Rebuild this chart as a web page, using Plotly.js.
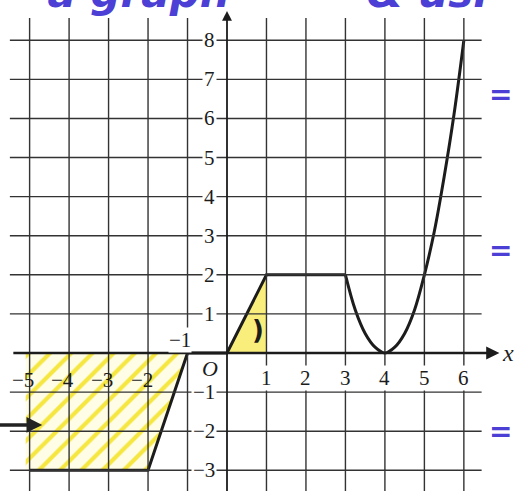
<!DOCTYPE html>
<html>
<head>
<meta charset="utf-8">
<script src="https://cdn.plot.ly/plotly-3.0.1.min.js"></script>
<style>html,body{margin:0;padding:0;background:#fff;}#chart{width:514px;height:491px;}</style>
</head>
<body>
<div id="chart"></div>
<script>
// ---- data ----
const pieceX = [-5, -2, -1, 0, 1, 3];
const pieceY = [-3, -3, 0, 0, 2, 2];
const curveX = [3, 3.25, 3.5, 3.75, 4, 4.25, 4.5, 4.75, 5, 5.25, 5.5, 5.75, 6];
const curveY = [2, 1.1, 0.5, 0.15, 0, 0.15, 0.5, 1.1, 2, 3.1, 4.5, 6.1, 8];
const hatchX = [-5.1, -1, -2, -5.1];
const hatchY = [0, 0, -3, -3];
const triX = [0, 1, 1];
const triY = [0, 2, 0];
const gridX = [-5, -4, -3, -2, -1, 1, 2, 3, 4, 5, 6];
const gridY = [-3, -2, -1, 1, 2, 3, 4, 5, 6, 7, 8];
const xTickNeg = [-5, -4, -3, -2];
const xTickNegText = ['\u22125', '\u22124', '\u22123', '\u22122'];
const xTickPos = [1, 2, 3, 4, 5, 6];
const xTickPosText = ['1', '2', '3', '4', '5', '6'];
const yTick = [8, 7, 6, 5, 4, 3, 2, 1, -1, -2, -3];
const yTickText = ['8', '7', '6', '5', '4', '3', '2', '1', '\u22121', '\u22122', '\u22123'];
const noteEq = [6.6, 2.63, -2.02];

const serif = 'Liberation Serif, DejaVu Serif, serif';
const ink = '#1c1c1c';
const blue = '#4b3fd6';

const traces = [
  {x: hatchX, y: hatchY, type: 'scatter', mode: 'lines', fill: 'toself',
   line: {width: 0, color: 'rgba(0,0,0,0)'},
   fillcolor: 'rgba(255,249,190,0.5)',
   fillpattern: {shape: '/', fgcolor: '#f5e640', bgcolor: 'rgba(255,250,200,0.45)', size: 15, solidity: 0.28},
   hoverinfo: 'skip'},
  {x: triX, y: triY, type: 'scatter', mode: 'lines', fill: 'toself',
   line: {width: 0, color: 'rgba(0,0,0,0)'}, fillcolor: 'rgba(248,234,90,0.8)', hoverinfo: 'skip'},
  {x: pieceX, y: pieceY, type: 'scatter', mode: 'lines', line: {color: ink, width: 3}},
  {x: curveX, y: curveY, type: 'scatter', mode: 'lines', line: {color: ink, width: 3, shape: 'spline'}}
];

const shapes = [];
gridX.forEach(v => shapes.push({type: 'line', xref: 'x', yref: 'y', x0: v, x1: v, y0: -3.7, y1: 8.57,
  line: {color: '#333333', width: 1.4}, layer: 'above'}));
gridY.forEach(v => shapes.push({type: 'line', xref: 'x', yref: 'y', x0: -5.5, x1: 6.45, y0: v, y1: v,
  line: {color: '#333333', width: 1.4}, layer: 'above'}));

const ann = [];
// axes with arrows
ann.push({x: 6.9, y: 0, ax: -5.45, ay: 0, axref: 'x', ayref: 'y', xref: 'x', yref: 'y', text: '',
  showarrow: true, arrowhead: 2, arrowsize: 1.1, arrowwidth: 2.4, arrowcolor: ink});
ann.push({x: 0, y: 8.75, ax: 0, ay: -3.7, axref: 'x', ayref: 'y', xref: 'x', yref: 'y', text: '',
  showarrow: true, arrowhead: 2, arrowsize: 1.1, arrowwidth: 1.8, arrowcolor: ink});
// tick labels
xTickPos.forEach((v, i) => ann.push({x: v, y: -0.64, xref: 'x', yref: 'y', text: xTickPosText[i],
  showarrow: false, xanchor: 'center', yanchor: 'middle', font: {family: serif, size: 21, color: ink},
  bgcolor: 'white', borderpad: 0}));
xTickNeg.forEach((v, i) => ann.push({x: v + 0.17, y: -0.68, xref: 'x', yref: 'y', text: xTickNegText[i],
  showarrow: false, xanchor: 'right', yanchor: 'middle', font: {family: serif, size: 21, color: ink}}));
ann.push({x: -0.88, y: 0.32, xref: 'x', yref: 'y', text: '\u22121', showarrow: false,
  xanchor: 'right', yanchor: 'middle', font: {family: serif, size: 21, color: ink}, bgcolor: 'white', borderpad: 0});
yTick.forEach((v, i) => ann.push({x: -0.25, y: v, xref: 'x', yref: 'y', text: yTickText[i],
  showarrow: false, xanchor: 'right', yanchor: 'middle', font: {family: serif, size: 21, color: ink},
  bgcolor: 'white', borderpad: 1}));
ann.push({x: -0.42, y: -0.4, xref: 'x', yref: 'y', text: '<i>O</i>', showarrow: false,
  xanchor: 'center', yanchor: 'middle', font: {family: serif, size: 22, color: ink}});
ann.push({x: 7.12, y: 0, xref: 'x', yref: 'y', text: '<i>x</i>', showarrow: false,
  xanchor: 'center', yanchor: 'middle', font: {family: serif, size: 24, color: ink}});
// handwriting
ann.push({x: 0.78, y: 0.6, xref: 'x', yref: 'y', text: '<b>)</b>', showarrow: false,
  font: {family: 'DejaVu Sans', size: 26, color: ink}});
ann.push({x: -4.68, y: -1.84, ax: -6.2, ay: -1.84, axref: 'x', ayref: 'y', xref: 'x', yref: 'y', text: '',
  showarrow: true, arrowhead: 2, arrowsize: 0.9, arrowwidth: 3.5, arrowcolor: '#222'});
ann.push({x: 0.03, y: 0.962, xref: 'paper', yref: 'paper', text: '<b><i>\u00b7 a graph</i></b>', showarrow: false,
  xanchor: 'left', yanchor: 'bottom', font: {family: 'DejaVu Sans', size: 42, color: blue}});
ann.push({x: 0.71, y: 0.962, xref: 'paper', yref: 'paper', text: '<b><i>&amp; usi</i></b>', showarrow: false,
  xanchor: 'left', yanchor: 'bottom', font: {family: 'DejaVu Sans', size: 42, color: blue}});
noteEq.forEach(v => ann.push({x: 1.0, y: v, xref: 'paper', yref: 'y', text: '<b>=</b>', showarrow: false,
  xanchor: 'right', yanchor: 'middle', font: {family: 'DejaVu Sans', size: 28, color: blue}}));

const layout = {
  width: 514, height: 491,
  margin: {l: 0, r: 0, t: 0, b: 0},
  paper_bgcolor: 'white', plot_bgcolor: 'white',
  showlegend: false,
  xaxis: {range: [-5.75, 7.27], visible: false, showgrid: false, zeroline: false, fixedrange: true},
  yaxis: {range: [-3.53, 9.03], visible: false, showgrid: false, zeroline: false, fixedrange: true},
  shapes: shapes,
  annotations: ann
};
Plotly.newPlot('chart', traces, layout, {displayModeBar: false, staticPlot: true});
</script>
</body>
</html>
